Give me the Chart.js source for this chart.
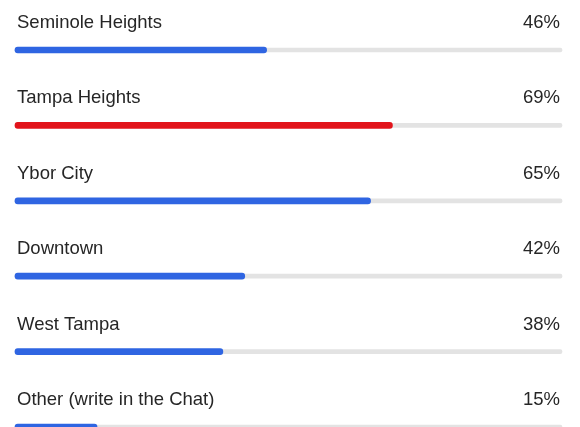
<!DOCTYPE html>
<html>
<head>
<meta charset="utf-8">
<script src="https://cdn.jsdelivr.net/npm/chart.js@4"></script>
<style>
  html, body { margin: 0; padding: 0; background: #ffffff; overflow: hidden; }
  #wrap { position: relative; width: 580px; height: 427px; }
</style>
</head>
<body>
<div id="wrap"><canvas id="c"></canvas></div>
<script>
// ---- data ----
const categories = ["Seminole Heights", "Tampa Heights", "Ybor City", "Downtown", "West Tampa", "Other (write in the Chat)"];
const percentages = [46, 69, 65, 42, 38, 15];
const trackValues = [100, 100, 100, 100, 100, 100];
const highlighted = "Tampa Heights";

// ---- styles ----
const BLUE = "#2f65e2";
const RED = "#e2141b";
const TRACK = "#e3e3e3";
const TEXT = "#262626";
const FONT = "18.5px 'Liberation Sans', Arial, Helvetica, sans-serif";

const labelPlugin = {
  id: "pollLabels",
  afterDatasetsDraw(chart) {
    const ctx = chart.ctx;
    const meta = chart.getDatasetMeta(0);
    const area = chart.chartArea;
    ctx.save();
    ctx.font = FONT;
    ctx.fillStyle = TEXT;
    ctx.textBaseline = "alphabetic";
    meta.data.forEach((bar, i) => {
      const y = bar.y - 22;
      ctx.textAlign = "left";
      ctx.fillText(categories[i], area.left + 2, y);
      ctx.textAlign = "right";
      ctx.fillText(percentages[i] + "%", area.right - 2, y);
    });
    ctx.restore();
  }
};

new Chart(document.getElementById("c"), {
  type: "bar",
  data: {
    labels: categories,
    datasets: [
      {
        label: "Votes",
        data: percentages,
        backgroundColor: categories.map(c => c === highlighted ? RED : BLUE),
        barThickness: 6,
        borderRadius: 3,
        borderSkipped: false,
        grouped: false,
        order: 0,
        clip: false
      },
      {
        label: "Track",
        data: trackValues,
        backgroundColor: TRACK,
        barThickness: 4,
        borderRadius: 2,
        borderSkipped: false,
        grouped: false,
        order: 1,
        clip: false
      }
    ]
  },
  options: {
    indexAxis: "y",
    responsive: true,
    maintainAspectRatio: false,
    animation: false,
    layout: { padding: { top: 50, bottom: 0, left: 15, right: 18 } },
    plugins: { legend: { display: false }, tooltip: { enabled: false } },
    scales: {
      x: { display: false, min: 0, max: 100 },
      y: { display: false, offset: false }
    }
  },
  plugins: [labelPlugin]
});
</script>
</body>
</html>
